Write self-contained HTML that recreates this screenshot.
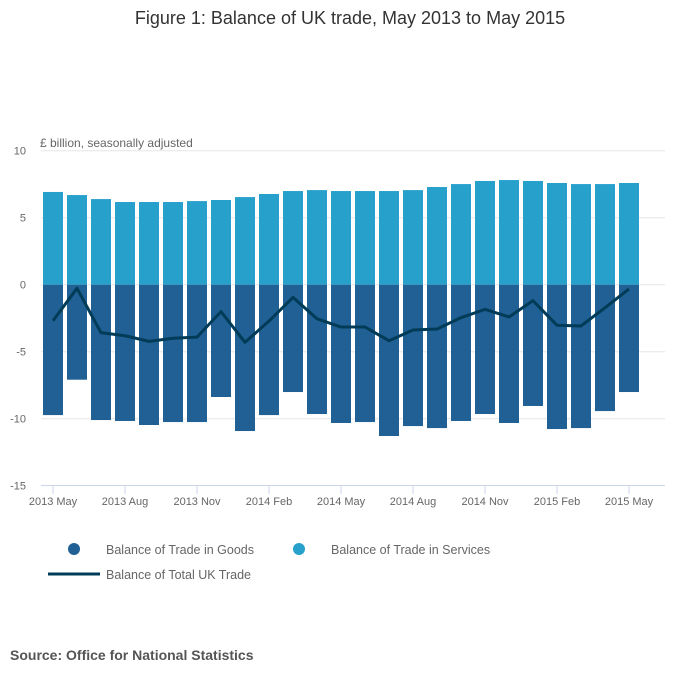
<!DOCTYPE html>
<html><head><meta charset="utf-8"><style>
body{margin:0;background:#fff;}
svg text{font-family:"Liberation Sans",sans-serif;}
</style></head><body>
<svg id="chart" width="700" height="682" viewBox="0 0 700 682" xmlns="http://www.w3.org/2000/svg">
<text x="350" y="24" text-anchor="middle" font-size="18" fill="#333">Figure 1: Balance of UK trade, May 2013 to May 2015</text>
<text x="40" y="147" font-size="12" fill="#666">£ billion, seasonally adjusted</text>
<g id="grid"></g><g id="bars"></g><g id="line"></g><g id="axes"></g>
<g>
<circle cx="74" cy="549" r="6" fill="#206095"/>
<text x="106" y="554" font-size="12.5" fill="#666">Balance of Trade in Goods</text>
<circle cx="299" cy="549" r="6" fill="#27a0cc"/>
<text x="331" y="554" font-size="12.5" fill="#666">Balance of Trade in Services</text>
<line x1="48" y1="574" x2="100" y2="574" stroke="#003c57" stroke-width="3"/>
<text x="106" y="579" font-size="12.5" fill="#666">Balance of Total UK Trade</text>
</g>
<text x="10" y="660" font-size="14" font-weight="bold" fill="#555">Source: Office for National Statistics</text>
</svg>
<script>
const categories=["2013 May","Jun","Jul","2013 Aug","Sep","Oct","2013 Nov","Dec","Jan","2014 Feb","Mar","Apr","2014 May","Jun","Jul","2014 Aug","Sep","Oct","2014 Nov","Dec","Jan","2015 Feb","Mar","Apr","2015 May"];
const services=[6.92,6.69,6.39,6.17,6.17,6.17,6.24,6.32,6.54,6.77,6.99,7.06,6.99,6.99,6.99,7.06,7.29,7.51,7.74,7.81,7.74,7.59,7.51,7.51,7.59];
const goods=[-9.73,-7.09,-10.1,-10.17,-10.47,-10.25,-10.25,-8.38,-10.92,-9.73,-8.01,-9.65,-10.32,-10.25,-11.29,-10.55,-10.7,-10.17,-9.65,-10.32,-9.05,-10.77,-10.7,-9.43,-8.01];
const total=[-2.69,-0.27,-3.58,-3.81,-4.23,-4.0,-3.91,-2.01,-4.3,-2.71,-0.95,-2.54,-3.16,-3.16,-4.18,-3.38,-3.31,-2.46,-1.84,-2.41,-1.19,-3.03,-3.08,-1.72,-0.32];
const yTicks=[10,5,0,-5,-10,-15];
const NS="http://www.w3.org/2000/svg";
const y=v=>284.7-v*13.4;
const x=i=>53+i*24;
function mk(tag,attrs,parent){const e=document.createElementNS(NS,tag);for(const k in attrs)e.setAttribute(k,attrs[k]);document.getElementById(parent).appendChild(e);return e;}
yTicks.forEach(t=>{
 if(t>-15){const g=mk('line',{x1:41,x2:665,y1:y(t),y2:y(t),stroke:'#e6e6e6','stroke-width':1},'grid');
 
 }
 const l=mk('text',{x:26,y:y(t)+4,'text-anchor':'end','font-size':11,fill:'#666'},'axes');l.textContent=t;
 
 
});
categories.forEach((c,i)=>{
 const s=mk('rect',{x:x(i)-10,width:20,y:y(services[i]),height:y(0)-y(services[i]),fill:'#27a0cc'},'bars');
 
 
 const g=mk('rect',{x:x(i)-10,width:20,y:y(0),height:y(goods[i])-y(0),fill:'#206095'},'bars');
 
 
 if(i%3===0){
  const tk=mk('line',{x1:x(i),x2:x(i),y1:485.5,y2:494,stroke:'#ccd6eb'},'axes');
  
  
  const t=mk('text',{x:x(i),y:505,'text-anchor':'middle','font-size':11,fill:'#666'},'axes');t.textContent=c;
  
  
 }
});
const ax=mk('line',{x1:41,x2:665,y1:485.5,y2:485.5,stroke:'#ccd6eb'},'axes');


const pl=mk('polyline',{points:total.map((v,i)=>x(i)+','+y(v)).join(' '),fill:'none',stroke:'#003c57','stroke-width':3,'stroke-linejoin':'round'},'line');


</script>
</body></html>
